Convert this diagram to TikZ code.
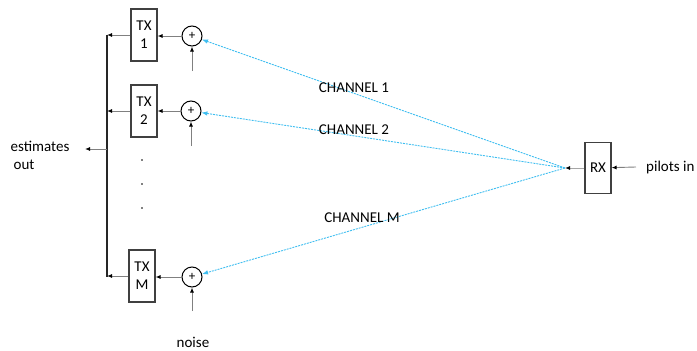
\documentclass[tikz,border=0pt]{standalone}
\usepackage{fontspec}
\setmainfont{Carlito}
\usetikzlibrary{positioning,arrows.meta}
\definecolor{chancol}{RGB}{64,190,240}
\tikzset{
txbox/.style={
  draw=black!75,
  line width=1.1pt,
  minimum width=26pt,
  minimum height=52pt,
  inner sep=0pt,
  align=center
  },
summer/.style={
  draw=black,
  line width=1pt,
  circle,
  minimum size=20pt,
  inner sep=0pt,
  font=\fontsize{13}{13}\selectfont
  },
sig/.style={draw=black!50, line width=0.9pt, -{Latex[length=5pt,width=4pt,black]}},
chan/.style={draw=chancol, line width=0.9pt, dash pattern=on 2pt off 1pt, -{Latex[length=6pt,width=4.5pt]}},
bus/.style={draw=black!85, line width=1.2pt}
}

\begin{document}
\begin{tikzpicture}[x=1pt, y=-1pt, font=\fontsize{15}{18}\selectfont]
\useasboundingbox (0,0) rectangle (697,351);

% transmitters and adders
\node[txbox] (tx1) at (144,35) {TX\\1};
\node[txbox] (tx2) at (144,111) {TX\\2};
\node[txbox] (txm) at (142,276) {TX\\M};
\node[summer] (s1) at (192,36) {+};
\node[summer] (s2) at (191,111) {+};
\node[summer] (sm) at (192,277) {+};

% receiver
\node[txbox, minimum height=51pt] (rx) at (598,168) {RX};
\coordinate (hub) at (565,168);
\node[anchor=west, inner sep=0pt] (pilots) at (646,167) {pilots in};

% bus on the left
\coordinate (bus1) at (107,35);
\coordinate (busm) at (107,277);
\coordinate (estout) at (85,149);
\draw[bus] (bus1) -- (busm);
\node[align=left, inner sep=0pt] (esttext) at (40,155) {estimates\\\hspace{3pt}out};

\draw[sig] (tx1.west) -- (tx1.west -| bus1);
\draw[sig] (tx2.west) -- (tx2.west -| bus1);
\draw[sig] (txm.west) -- (txm.west -| bus1);
\draw[sig] (bus1 |- estout) -- (estout);

\draw[sig] (s1.west) -- (s1.west -| tx1.east);
\draw[sig] (s2.west) -- (s2.west -| tx2.east);
\draw[sig] (sm.west) -- (sm.west -| txm.east);

% noise inputs
\coordinate (n1) at (192,71);
\coordinate (n2) at (191,146);
\coordinate (nm) at (192,311);
\draw[sig] (n1) -- (s1);
\draw[sig] (n2) -- (s2);
\draw[sig] (nm) -- (sm);
\node (noise) at (193,342) {noise};

% dots
\fill (142,160) circle (0.9);
\fill (142,184) circle (0.9);
\fill (142,208) circle (0.9);

% channels
\draw[sig, draw=black!35] (rx) -- (hub);
\draw[sig] ([xshift=-10pt]pilots.west) -- (rx);
\draw[chan] (hub) -- (s1);
\draw[chan] (hub) -- (s2);
\draw[chan] (hub) -- (sm);
\node (ch1) at (354,88) {CHANNEL 1};
\node (ch2) at (354,130) {CHANNEL 2};
\node (chm) at (362,218) {CHANNEL M};
\end{tikzpicture}
\end{document}
